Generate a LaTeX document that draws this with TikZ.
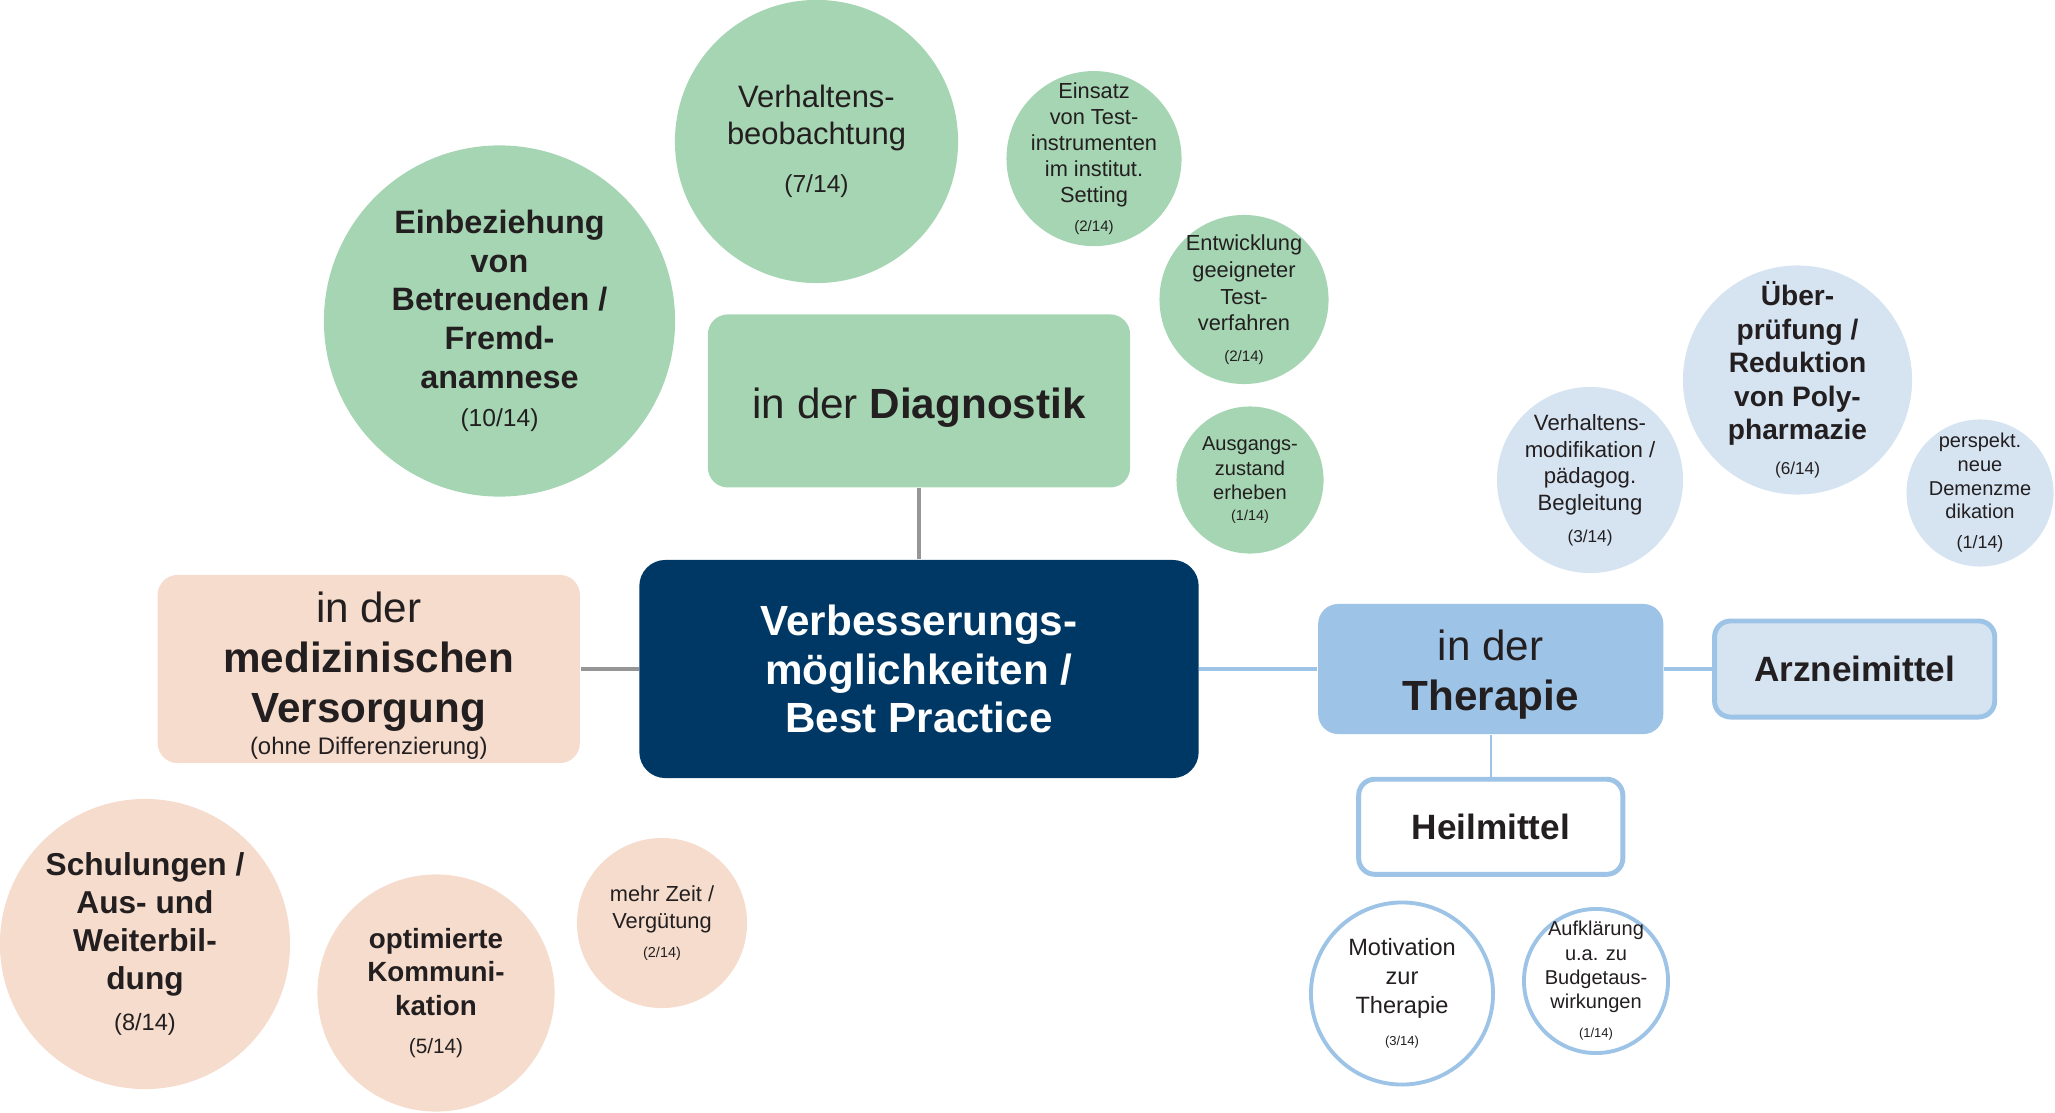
\documentclass[tikz,border=0pt]{standalone}
\usepackage{fontspec}
\setmainfont{Liberation Sans}
\usetikzlibrary{positioning}

\definecolor{navy}{RGB}{0,56,101}
\definecolor{sage}{RGB}{165,213,178}
\definecolor{peach}{RGB}{245,220,204}
\definecolor{skyline}{RGB}{157,195,230}
\definecolor{paleblue}{RGB}{214,228,242}
\definecolor{stem}{RGB}{150,150,150}
\definecolor{ink}{RGB}{35,31,32}

\newcommand{\share}[2]{{\normalfont\fontsize{#1}{#1}\selectfont #2}}

\begin{document}
\begin{tikzpicture}[
    x=0.01cm, y=-0.01cm,
    hub/.style={rectangle, rounded corners=0.26cm, fill=navy, text=white,
                minimum width=5.59cm, minimum height=2.18cm,
                align=center, font=\fontsize{12}{13.8}\selectfont\bfseries},
    branch/.style={rectangle, rounded corners=0.2cm, text=ink, inner sep=1pt,
                align=center, font=\fontsize{12}{14.2}\selectfont},
    leaf/.style={rectangle, rounded corners=0.16cm, draw=skyline, line width=1.4pt,
                text=ink, align=center, font=\fontsize{10}{12}\selectfont\bfseries},
    bubble/.style={circle, inner sep=-8pt, align=center, text=ink},
    ring/.style={bubble, draw=skyline, line width=1.1pt, fill=white},
    trunk/.style={draw=stem, line width=1.1pt},
    twig/.style={draw=skyline, line width=1pt}
]
    \useasboundingbox (0,0) rectangle (2055,1112);

    \node[hub] (core) at (919,669) {Verbesserungs-\\möglichkeiten /\\Best Practice};

    \node[branch, fill=sage, minimum width=4.22cm, minimum height=1.73cm,
          above=0.71cm of core] (diag) {\rule{0pt}{12.6pt}in der \textbf{Diagnostik}};
    \node[branch, fill=peach, minimum width=4.22cm, minimum height=1.84cm,
          left=0.58cm of core] (care)
          {\rule{0pt}{12.5pt}in der\\\textbf{medizinischen}\\\textbf{Versorgung}\\[-5pt]\share{6.8}{(ohne Differenzierung)}};
    \node[branch, fill=skyline, minimum width=3.45cm, minimum height=1.30cm,
          right=1.18cm of core] (thera) {\rule{0pt}{11.8pt}in der\\\textbf{Therapie}};
    \node[leaf, fill=paleblue, minimum width=2.80cm, minimum height=0.96cm,
          right=0.48cm of thera] (drug) {Arzneimittel};
    \node[leaf, fill=white, minimum width=2.64cm, minimum height=0.95cm,
          below=0.42cm of thera] (remedy) {Heilmittel};

    \draw[trunk] (core) -- (diag);
    \draw[trunk] (core) -- (care);
    \draw[twig] (core) -- (thera);
    \draw[twig] (thera) -- (drug);
    \draw[twig, line width=0.5pt] (thera) -- (remedy);

    \node[bubble, fill=sage, minimum size=3.51cm, font=\fontsize{9.2}{11}\selectfont\bfseries]
        (kin) at (499.5,321) {Einbeziehung\\von\\Betreuenden /\\Fremd-\\anamnese\\\share{7}{(10/14)}};
    \node[bubble, fill=sage, minimum size=2.83cm, font=\fontsize{8.8}{10.4}\selectfont]
        (watch) at (816.5,141.5) {Verhaltens-\\beobachtung\\[3.4pt]\share{7}{(7/14)}};
    \node[bubble, fill=sage, minimum size=1.75cm, font=\fontsize{6.2}{7.4}\selectfont]
        (tools) at (1094,158.6) {Einsatz\\von Test-\\instrumenten\\im institut.\\Setting\\[1pt]\share{4.3}{(2/14)}};
    \node[bubble, fill=sage, minimum size=1.69cm, font=\fontsize{6.2}{7.6}\selectfont]
        (tests) at (1244,299.5) {Entwicklung\\geeigneter\\Test-\\verfahren\\[1pt]\share{4.3}{(2/14)}};
    \node[bubble, fill=sage, minimum size=1.47cm, font=\fontsize{5.7}{6.9}\selectfont]
        (base) at (1250,480) {Ausgangs-\\zustand\\erheben\\[-1pt]\share{4.1}{(1/14)}};

    \node[bubble, fill=paleblue, minimum size=1.86cm, font=\fontsize{6.3}{7.6}\selectfont]
        (behav) at (1590,480) {Verhaltens-\\modifikation /\\pädagog.\\Begleitung\\[1.4pt]\share{4.9}{(3/14)}};
    \node[bubble, fill=paleblue, minimum size=2.29cm, font=\fontsize{8}{9.5}\selectfont\bfseries]
        (poly) at (1797.5,380) {Über-\\prüfung /\\Reduktion\\von Poly-\\pharmazie\\[0.5pt]\share{4.9}{(6/14)}};
    \node[bubble, fill=paleblue, minimum size=1.47cm, font=\fontsize{5.7}{6.7}\selectfont]
        (newdrug) at (1980,493) {perspekt.\\neue\\Demenzme\\dikation\\[1.9pt]\share{5.1}{(1/14)}};

    \node[ring, minimum size=1.82cm, font=\fontsize{6.7}{8.2}\selectfont]
        (motiv) at (1402,993.5) {Motivation\\zur\\Therapie\\[1pt]\share{3.7}{(3/14)}};
    \node[ring, minimum size=1.44cm, font=\fontsize{5.7}{6.9}\selectfont]
        (budget) at (1596,981) {Aufklärung\\u.a. zu\\Budgetaus-\\wirkungen\\[1.4pt]\share{3.7}{(1/14)}};

    \node[bubble, fill=peach, minimum size=2.90cm, font=\fontsize{9}{10.8}\selectfont\bfseries]
        (train) at (145,944) {Schulungen /\\Aus- und\\Weiterbil-\\dung\\[1.1pt]\share{6.7}{(8/14)}};
    \node[bubble, fill=peach, minimum size=2.37cm, font=\fontsize{7.9}{9.5}\selectfont\bfseries]
        (talk) at (436,993) {optimierte\\Kommuni-\\kation\\[1.3pt]\share{5.9}{(5/14)}};
    \node[bubble, fill=peach, minimum size=1.70cm, font=\fontsize{6.2}{7.5}\selectfont]
        (time) at (662,923) {mehr Zeit /\\Vergütung\\[0.7pt]\share{4.1}{(2/14)}};
\end{tikzpicture}
\end{document}
